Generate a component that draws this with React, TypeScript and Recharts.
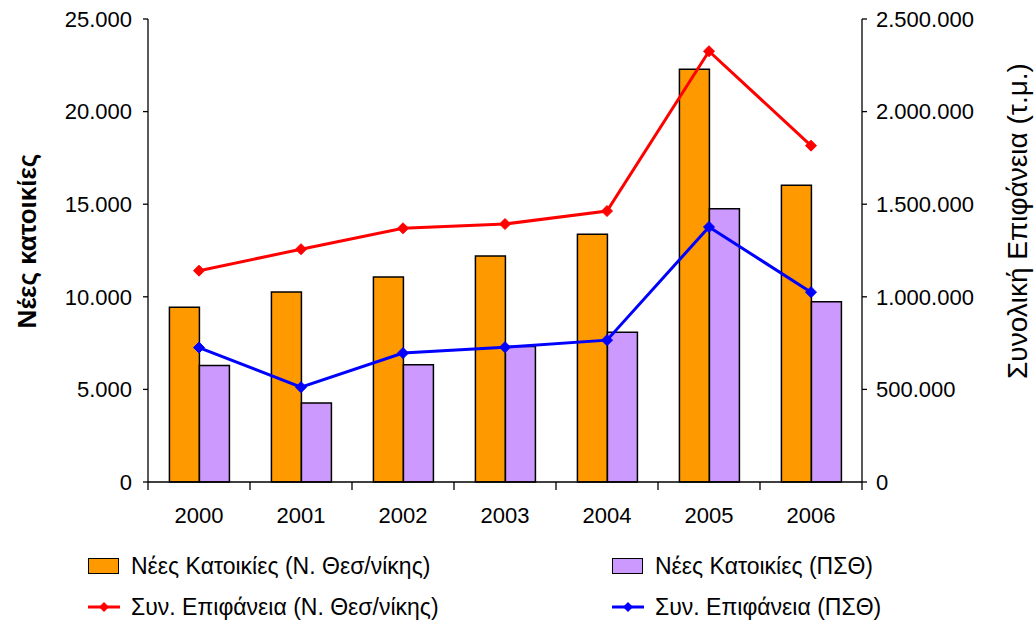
import React from 'react';
import { ComposedChart, Bar, Line, XAxis, YAxis } from 'recharts';

const years = ['2000', '2001', '2002', '2003', '2004', '2005', '2006'];
const newHomesThess = [9440, 10260, 11070, 12200, 13380, 22290, 16020];
const newHomesPsth = [6290, 4260, 6330, 7310, 8090, 14760, 9730];
const areaThess = [1141000, 1257000, 1370000, 1393000, 1463000, 2326000, 1816000];
const areaPsth = [726000, 512000, 696000, 728000, 766000, 1377000, 1025000];
const leftTicks = [0, 5000, 10000, 15000, 20000, 25000];
const rightTicks = [0, 500000, 1000000, 1500000, 2000000, 2500000];

const data = years.map((y, i) => ({
  year: y,
  homesThess: newHomesThess[i],
  homesPsth: newHomesPsth[i],
  areaThess: areaThess[i],
  areaPsth: areaPsth[i],
}));

const FONT = 'Arial, "Liberation Sans", sans-serif';
const fmt = (v: number) => String(v).replace(/\B(?=(\d{3})+(?!\d))/g, '.');

const PLOT_LEFT = 148;
const PLOT_RIGHT = 862;
const band = (PLOT_RIGHT - PLOT_LEFT) / years.length;

const Diamond = (color: string) => (props: any) => {
  const { cx, cy, index } = props;
  const r = 5.5;
  return (
    <polygon
      key={index}
      points={`${cx},${cy - r} ${cx + r},${cy} ${cx},${cy + r} ${cx - r},${cy}`}
      fill={color}
      stroke={color}
    />
  );
};

const XTick = (props: any) => {
  const { x, y, payload, index } = props;
  return (
    <g>
      <line x1={x - band / 2} x2={x - band / 2} y1={y} y2={y + 8} stroke="#000" strokeWidth={1.3} />
      {index === years.length - 1 && (
        <line x1={x + band / 2} x2={x + band / 2} y1={y} y2={y + 8} stroke="#000" strokeWidth={1.3} />
      )}
      <text x={x} y={y + 41} textAnchor="middle" fontSize={22} fontFamily={FONT} fill="#000">
        {payload.value}
      </text>
    </g>
  );
};

function LegendItem({ x, y, kind, color, label }: { x: number; y: number; kind: 'bar' | 'line'; color: string; label: string }) {
  return (
    <div style={{ position: 'absolute', left: x, top: y, height: 30, display: 'flex', alignItems: 'center', whiteSpace: 'nowrap' }}>
      {kind === 'bar' ? (
        <div style={{ width: 29, height: 14, background: color, border: '1.5px solid #000', marginRight: 12 }} />
      ) : (
        <svg width={32} height={12} style={{ marginRight: 11 }}>
          <line x1={0} x2={32} y1={6} y2={6} stroke={color} strokeWidth={3} />
          <polygon points="16,1 21,6 16,11 11,6" fill={color} />
        </svg>
      )}
      <span style={{ fontFamily: FONT, fontSize: 23, color: '#000' }}>{label}</span>
    </div>
  );
}

export default function App() {
  return (
    <div style={{ position: 'absolute', left: 0, top: 0, width: 1036, height: 625, background: '#fff' }}>
      <ComposedChart
        width={1036}
        height={625}
        data={data}
        margin={{ top: 19, right: 0, bottom: 93, left: 0 }}
        barGap={0}
        barCategoryGap="21%"
      >
        <XAxis
          dataKey="year"
          height={50}
          tickSize={0}
          tickMargin={0}
          tick={<XTick />}
          axisLine={{ stroke: '#000', strokeWidth: 1.3 }}
          interval={0}
        />
        <YAxis
          yAxisId="left"
          width={148}
          domain={[0, 25000]}
          ticks={leftTicks}
          tickFormatter={fmt}
          tickSize={5}
          tickMargin={11}
          axisLine={{ stroke: '#000', strokeWidth: 1.3 }}
          tickLine={{ stroke: '#000', strokeWidth: 1.3 }}
          tick={{ fontSize: 22, fontFamily: FONT, fill: '#000' }}
        />
        <YAxis
          yAxisId="right"
          orientation="right"
          width={174}
          domain={[0, 2500000]}
          ticks={rightTicks}
          tickFormatter={fmt}
          tickSize={5}
          tickMargin={9}
          axisLine={{ stroke: '#000', strokeWidth: 1.3 }}
          tickLine={{ stroke: '#000', strokeWidth: 1.3 }}
          tick={{ fontSize: 22, fontFamily: FONT, fill: '#000' }}
        />
        <Bar yAxisId="left" dataKey="homesThess" fill="#FF9900" stroke="#000" strokeWidth={1.5} isAnimationActive={false} />
        <Bar yAxisId="left" dataKey="homesPsth" fill="#CC99FF" stroke="#000" strokeWidth={1.5} isAnimationActive={false} />
        <Line
          yAxisId="right"
          dataKey="areaThess"
          stroke="#FF0000"
          strokeWidth={3}
          dot={Diamond('#FF0000')}
          activeDot={false}
          isAnimationActive={false}
        />
        <Line
          yAxisId="right"
          dataKey="areaPsth"
          stroke="#0000FF"
          strokeWidth={3}
          dot={Diamond('#0000FF')}
          activeDot={false}
          isAnimationActive={false}
        />
      </ComposedChart>

      <div
        style={{
          position: 'absolute', left: 27, top: 241, transform: 'translate(-50%, -50%) rotate(-90deg)',
          whiteSpace: 'nowrap', fontFamily: FONT, fontSize: 26, fontWeight: 'bold', color: '#000',
        }}
      >
        Νέες κατοικίες
      </div>
      <div
        style={{
          position: 'absolute', left: 1018, top: 221, transform: 'translate(-50%, -50%) rotate(-90deg)',
          whiteSpace: 'nowrap', fontFamily: FONT, fontSize: 28, color: '#000',
        }}
      >
        Συνολική Επιφάνεια (τ.μ.)
      </div>

      <LegendItem x={88} y={551} kind="bar" color="#FF9900" label="Νέες Κατοικίες (Ν. Θεσ/νίκης)" />
      <LegendItem x={612} y={551} kind="bar" color="#CC99FF" label="Νέες Κατοικίες (ΠΣΘ)" />
      <LegendItem x={88} y={592} kind="line" color="#FF0000" label="Συν. Επιφάνεια (Ν. Θεσ/νίκης)" />
      <LegendItem x={612} y={592} kind="line" color="#0000FF" label="Συν. Επιφάνεια (ΠΣΘ)" />
    </div>
  );
}
